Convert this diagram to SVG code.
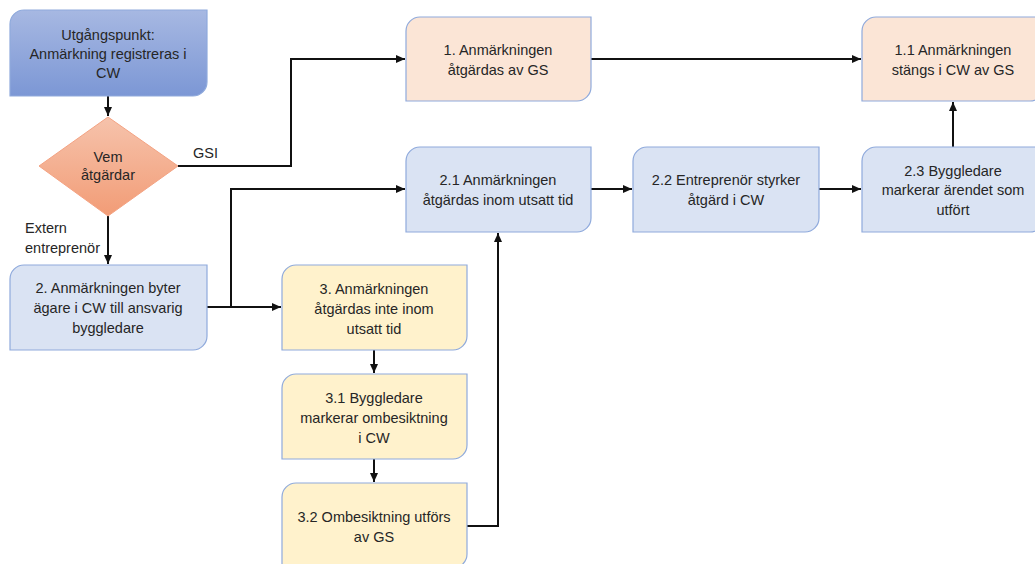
<svg xmlns="http://www.w3.org/2000/svg" width="1035" height="564" viewBox="0 0 1035 564">
<defs>
<linearGradient id="gBlue" x1="0" y1="0" x2="0" y2="1"><stop offset="0" stop-color="#A7B8E2"/><stop offset="1" stop-color="#7C97D5"/></linearGradient>
<linearGradient id="gOrange" x1="0" y1="0" x2="0" y2="1"><stop offset="0" stop-color="#F6C3AC"/><stop offset="1" stop-color="#F29C76"/></linearGradient>
<marker id="arr" markerUnits="userSpaceOnUse" markerWidth="10" markerHeight="10" viewBox="0 0 10 10" refX="9" refY="5" orient="auto"><path d="M0,1 L9,5 L0,9 Z" fill="#111"/></marker>
<style>
.n{stroke:#8FAADC;stroke-width:1.2}
.b{fill:#DAE3F3}.o{fill:#FBE5D6}.y{fill:#FFF2CC}
text{font-family:"Liberation Sans",Arial,sans-serif;font-size:14.5px;fill:#262626;text-anchor:middle}
.lbl{text-anchor:start}
.c{fill:none;stroke:#111;stroke-width:2}
</style>
</defs>
<g id="connectors">
<path class="c" d="M108,96 V116" marker-end="url(#arr)"/>
<path class="c" d="M108,216 V264" marker-end="url(#arr)"/>
<path class="c" d="M178,166 H291 V59 H405" marker-end="url(#arr)"/>
<path class="c" d="M591,59 H861" marker-end="url(#arr)"/>
<path class="c" d="M206,307 H281" marker-end="url(#arr)"/>
<path class="c" d="M231,307 V189 H405" marker-end="url(#arr)"/>
<path class="c" d="M591,189 H632" marker-end="url(#arr)"/>
<path class="c" d="M819,189 H861" marker-end="url(#arr)"/>
<path class="c" d="M953,147 V102" marker-end="url(#arr)"/>
<path class="c" d="M374,350 V373" marker-end="url(#arr)"/>
<path class="c" d="M374,459 V482" marker-end="url(#arr)"/>
<path class="c" d="M467,526 H498 V233" marker-end="url(#arr)"/>
<text class="lbl" x="193" y="158">GSI</text>
<text class="lbl" x="25" y="233">Extern</text>
<text class="lbl" x="25" y="253">entreprenör</text>
</g>
<g id="start">
<path class="n" fill="url(#gBlue)" d="M24,10 H207 V82 A14,14 0 0 1 193,96 H10 V24 A14,14 0 0 1 24,10 Z"/>
<text x="108" y="40">Utgångspunkt:</text>
<text x="108" y="59">Anmärkning registreras i</text>
<text x="108" y="78">CW</text>
</g>
<g id="decision">
<path d="M108,117 L178,166 L108,216 L39,166 Z" fill="url(#gOrange)" stroke="#F4A383" stroke-width="1"/>
<text x="108" y="162">Vem</text>
<text x="108" y="180">åtgärdar</text>
</g>
<g id="n2">
<path class="n b" d="M24,265 H207 V336 A14,14 0 0 1 193,350 H10 V279 A14,14 0 0 1 24,265 Z"/>
<text x="108" y="293">2. Anmärkningen byter</text>
<text x="108" y="313">ägare i CW till ansvarig</text>
<text x="108" y="333">byggledare</text>
</g>
<g id="n1">
<path class="n o" d="M420,17 H591 V87 A14,14 0 0 1 577,101 H406 V31 A14,14 0 0 1 420,17 Z"/>
<text x="498" y="55">1. Anmärkningen</text>
<text x="498" y="75">åtgärdas av GS</text>
</g>
<g id="n11">
<path class="n o" d="M876,17 H1044 V87 A14,14 0 0 1 1030,101 H862 V31 A14,14 0 0 1 876,17 Z"/>
<text x="953" y="55">1.1 Anmärkningen</text>
<text x="953" y="75">stängs i CW av GS</text>
</g>
<g id="n21">
<path class="n b" d="M420,147 H591 V218 A14,14 0 0 1 577,232 H406 V161 A14,14 0 0 1 420,147 Z"/>
<text x="498" y="185">2.1 Anmärkningen</text>
<text x="498" y="205">åtgärdas inom utsatt tid</text>
</g>
<g id="n22">
<path class="n b" d="M647,147 H819 V218 A14,14 0 0 1 805,232 H633 V161 A14,14 0 0 1 647,147 Z"/>
<text x="726" y="185">2.2 Entreprenör styrker</text>
<text x="726" y="205">åtgärd i CW</text>
</g>
<g id="n23">
<path class="n b" d="M876,147 H1044 V218 A14,14 0 0 1 1030,232 H862 V161 A14,14 0 0 1 876,147 Z"/>
<text x="953" y="176">2.3 Byggledare</text>
<text x="953" y="195">markerar ärendet som</text>
<text x="953" y="215">utfört</text>
</g>
<g id="n3">
<path class="n y" d="M296,265 H467 V336 A14,14 0 0 1 453,350 H282 V279 A14,14 0 0 1 296,265 Z"/>
<text x="374" y="294">3. Anmärkningen</text>
<text x="374" y="314">åtgärdas inte inom</text>
<text x="374" y="334">utsatt tid</text>
</g>
<g id="n31">
<path class="n y" d="M296,374 H467 V445 A14,14 0 0 1 453,459 H282 V388 A14,14 0 0 1 296,374 Z"/>
<text x="374" y="403">3.1 Byggledare</text>
<text x="374" y="423">markerar ombesiktning</text>
<text x="374" y="443">i CW</text>
</g>
<g id="n32">
<path class="n y" d="M296,483 H467 V554 A14,14 0 0 1 453,568 H282 V497 A14,14 0 0 1 296,483 Z"/>
<text x="374" y="522">3.2 Ombesiktning utförs</text>
<text x="374" y="542">av GS</text>
</g>
</svg>
